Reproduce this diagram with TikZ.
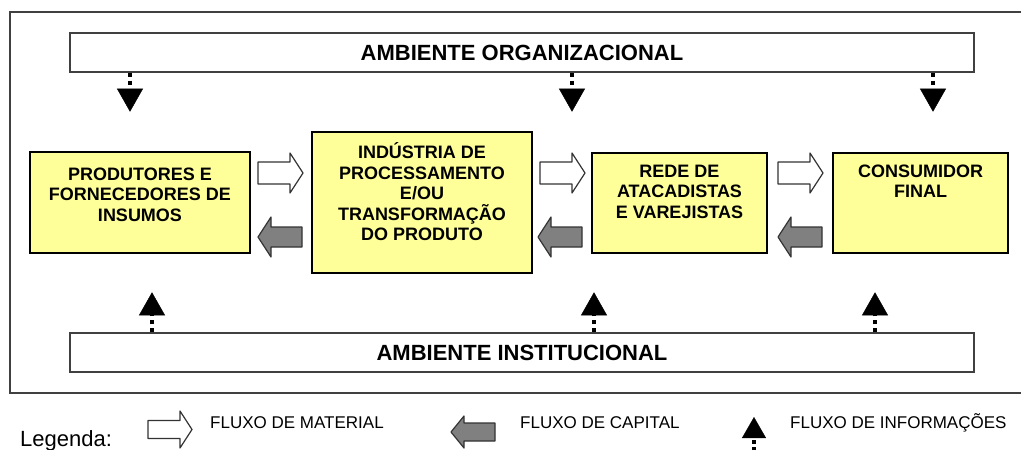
\documentclass[tikz,border=0pt]{standalone}
\usepackage{fontspec}
\setmainfont{Liberation Sans}
\usetikzlibrary{positioning,arrows.meta}
\definecolor{caixa}{HTML}{FFFF99}
\definecolor{capital}{HTML}{808080}
\begin{document}
\begin{tikzpicture}[x=1pt,y=-1pt,
  elo/.style={draw=black,line width=2.4pt,fill=caixa,inner sep=0pt},
  ambiente/.style={draw=black!75,line width=1.4pt,fill=white,inner sep=0pt,minimum height=39pt,minimum width=904pt,font=\fontsize{22}{24}\selectfont\bfseries},
  rotulo/.style={align=center,inner sep=0pt,font=\fontsize{18}{20.5}\selectfont\bfseries},
  info/.style={line width=3.6pt,dash pattern=on 4pt off 4pt,-{Triangle[width=26pt,length=23pt,line width=0.4pt]}},
  material/.style={draw=black!80,line width=1.2pt,fill=white,line join=round},
  capitalseta/.style={draw=black!80,line width=1.2pt,fill=capital,line join=round},
  legenda/.style={anchor=base west,inner sep=0pt,font=\fontsize{17}{20}\selectfont}]
\useasboundingbox (0,0) rectangle (1021,450);
\draw[black!75,line width=1.4pt] (10,12) rectangle (1040,393);
% ambientes
\node[ambiente] (org) at (522,52.5) {AMBIENTE ORGANIZACIONAL};
\node[ambiente] (inst) at (522,352.5) {AMBIENTE INSTITUCIONAL};
% elos da cadeia
\node[elo,minimum width=220pt,minimum height=101pt] (prod) at (140,202.5) {};
\node[elo,minimum width=220pt,minimum height=141pt] (ind) at (422,202.5) {};
\node[elo,minimum width=175pt,minimum height=100pt] (rede) at (679.5,203) {};
\node[elo,minimum width=175pt,minimum height=100pt] (cons) at (920.5,203) {};
\node[rotulo,below=15pt of prod.north] (tprod) {\strut PRODUTORES E\\FORNECEDORES DE\\INSUMOS};
\node[rotulo,below=12pt of ind.north] (tind) {\strut IND\'USTRIA DE\\PROCESSAMENTO\\E/OU\\TRANSFORMA\c{C}\~AO\\DO PRODUTO};
\node[rotulo,below=11pt of rede.north] (trede) {\strut REDE DE\\ATACADISTAS\\E VAREJISTAS};
\node[rotulo,below=11pt of cons.north] (tcons) {\strut CONSUMIDOR\\FINAL};
% fluxos
\foreach \x in {258,540,778} \draw[material,shift={(\x,173)}] (0,-11)--(32,-11)--(32,-20)--(45,0)--(32,20)--(32,11)--(0,11)--cycle;
\foreach \x in {302,582,822} \draw[capitalseta,shift={(\x,237)}] (0,-10)--(-31,-10)--(-31,-20)--(-44,0)--(-31,20)--(-31,10)--(0,10)--cycle;
\foreach \x in {130,572,933} \draw[info] (\x,0 |- org.south) -- ++(0,39);
\foreach \x in {152,594,875} \draw[info] (\x,0 |- inst.north) -- ++(0,-40);
% legenda
\node[legenda,font=\fontsize{22}{24}\selectfont] (leg) at (20,446) {Legenda:};
\draw[material,shift={(148,429.5)}] (0,-9)--(32,-9)--(32,-18.5)--(44,0)--(32,18.5)--(32,9)--(0,9)--cycle;
\node[legenda] (lmat) at (210,428) {FLUXO DE MATERIAL};
\draw[capitalseta,shift={(495,432)}] (0,-9)--(-31,-9)--(-31,-16)--(-44,0)--(-31,16)--(-31,9)--(0,9)--cycle;
\node[legenda] (lcap) at (520,428) {FLUXO DE CAPITAL};
\coordinate (linf) at (754,451);
\draw[info,dash pattern=on 4pt off 3pt,-{Triangle[width=24pt,length=21pt,line width=0.4pt]}] (linf) -- ++(0,-34);
\node[legenda] (tinf) at (790,428) {FLUXO DE INFORMA\c{C}\~OES};
\end{tikzpicture}
\end{document}
